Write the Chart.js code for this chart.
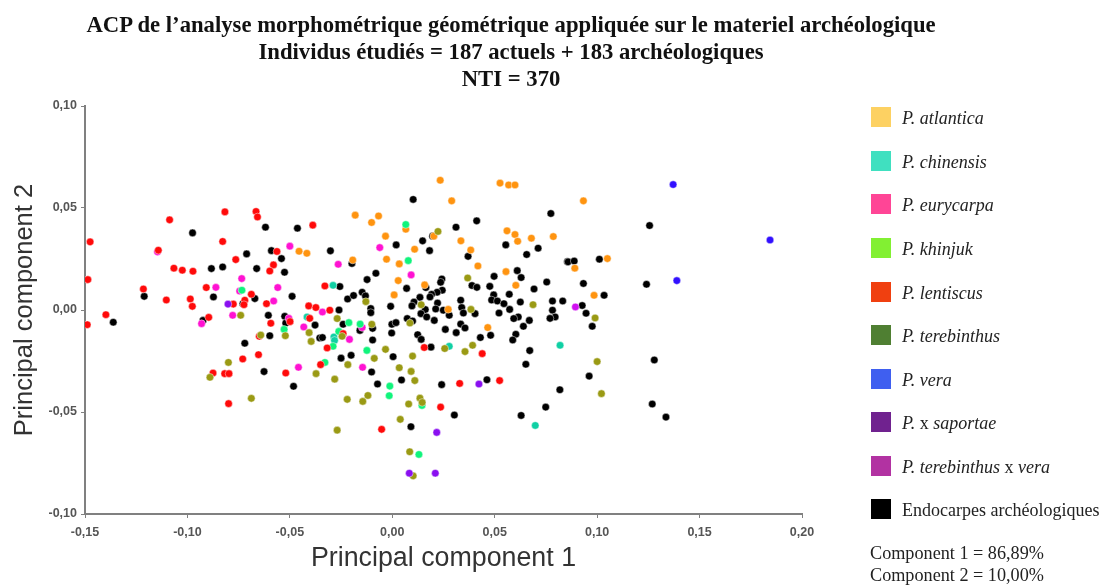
<!DOCTYPE html>
<html lang="fr">
<head>
<meta charset="utf-8">
<title>ACP morphométrie géométrique</title>
<script src="https://cdn.jsdelivr.net/npm/chart.js@4"></script>
<style>
  body { margin: 0; background: #fff; overflow: hidden; }
  #wrap { position: relative; width: 1105px; height: 586px; }
  #my_chart { position: absolute; left: 0; top: 0; }
  #chart_title { position: absolute; left: 11px; top: 11px; width: 1000px; text-align: center; color: #111; font: bold 22.7px/27px "Liberation Serif", serif; white-space: nowrap; }
  .swatch { position: absolute; left: 871px; width: 20px; height: 20px; }
  .label { position: absolute; left: 902px; font: 18px "Liberation Serif", serif; color: #222; white-space: nowrap; line-height: 20px; }
  .note { position: absolute; left: 870px; font: 18.2px "Liberation Serif", serif; color: #222; white-space: nowrap; line-height: 20px; }
</style>
</head>
<body>
<div id="wrap">
  <canvas id="my_chart" width="1105" height="586"></canvas>
  <div id="chart_title"></div>
</div>
<script>
const title_lines = [
    'ACP de l’analyse morphométrique géométrique appliquée sur le materiel archéologique',
    'Individus étudiés = 187 actuels + 183 archéologiques',
    'NTI = 370'
];
const notes = ['Component 1 = 86,89%', 'Component 2 = 10,00%'];

const legend_names = ['P. atlantica', 'P. chinensis', 'P. eurycarpa', 'P. khinjuk', 'P. lentiscus',
    'P. terebinthus', 'P. vera', 'P. x saportae', 'P. terebinthus x vera', 'Endocarpes archéologiques'];
const legend_colors = ['#fdd162', '#40e0c0', '#ff4596', '#82f032', '#f04010',
    '#4f7f32', '#3f5ff0', '#70228f', '#b232a2', '#000000'];
const legend_rows = [117, 161, 204, 248, 292, 335, 379, 422, 466, 509];

const point_colors = ['#ff9410', '#10d0a4', '#ff12d2', '#10f47c', '#ff0a0a',
    '#9a9a14', '#3210ff', '#8a10f0', '#d010f0', '#000000'];
const draw_order = [8, 7, 6, 5, 4, 3, 2, 1, 1, 9];

const atlantica = [[-0.0455,0.0288],[-0.0417,0.0278],[0.0234,0.0636],[0.0526,0.0622],[0.0568,0.0613],[0.0599,0.0613],
    [0.0290,0.0535],[-0.0181,0.0465],[-0.0067,0.0461],[-0.0101,0.0429],[0.0066,0.0396],[-0.0033,0.0362],[0.0203,0.0362],
    [0.0335,0.0339],[0.0383,0.0294],[0.0109,0.0298],[0.0560,0.0388],[0.0599,0.0370],[0.0612,0.0337],[0.0679,0.0352],
    [0.0786,0.0360],[-0.0193,0.0245],[-0.0028,0.0249],[0.0034,0.0226],[0.0418,0.0216],[0.0555,0.0188],[0.0029,0.0144],
    [0.0158,0.0123],[0.0603,0.0121],[0.0009,0.0074],[0.0273,0.0003],[0.0466,-0.0086],[0.0933,0.0535],[0.1050,0.0252],
    [0.0891,0.0205],[0.0985,0.0072]];
const chinensis = [[-0.0416,-0.0034],[-0.0289,0.0121],[-0.0285,-0.0132],[-0.0282,-0.0149],[0.0278,-0.0178],[0.0819,-0.0173],
    [0.0698,-0.0566]];
const eurycarpa = [[-0.1146,0.0285],[-0.0500,0.0313],[-0.0735,0.0154],[-0.0861,0.0111],[-0.0745,0.0093],[-0.0559,0.0110],
    [-0.0579,0.0044],[-0.0779,-0.0026],[-0.0931,-0.0067],[-0.0505,-0.0041],[-0.0432,-0.0083],[-0.0458,-0.0281],[-0.0061,0.0306],
    [-0.0264,0.0224],[0.0092,0.0172],[-0.0341,-0.0010],[-0.0147,-0.0086],[-0.0209,-0.0144],[-0.0145,-0.0281]];
const khinjuk = [[-0.0734,0.0097],[-0.0528,-0.0095],[0.0066,0.0419],[0.0078,0.0242],[-0.0212,-0.0062],[-0.0157,-0.0069],
    [-0.0261,-0.0105],[-0.0289,-0.0178],[-0.0124,-0.0198],[-0.0329,-0.0257],[-0.0012,-0.0373],[-0.0015,-0.0420],[0.0145,-0.0468],
    [0.0130,-0.0708]];
const lentiscus = [[-0.1475,0.0334],[-0.1486,0.0149],[-0.1398,-0.0023],[-0.1215,0.0103],[-0.1087,0.0442],[-0.1142,0.0293],
    [-0.1066,0.0205],[-0.1025,0.0195],[-0.0973,0.0190],[-0.1103,0.0049],[-0.0986,0.0054],[-0.0976,0.0018],[-0.0908,0.0110],
    [-0.0896,-0.0036],[-0.0828,0.0336],[-0.0817,0.0481],[-0.0764,0.0247],[-0.0665,0.0483],[-0.0658,0.0456],[-0.0563,0.0287],
    [-0.0580,0.0221],[-0.0598,0.0191],[-0.0688,0.0077],[-0.0720,0.0048],[-0.0724,0.0026],[-0.0776,0.0029],[-0.0614,0.0031],
    [-0.0388,0.0416],[-0.0408,0.0020],[-0.0373,0.0012],[-0.1489,-0.0072],[-0.0593,-0.0065],[-0.0499,-0.0057],[-0.0403,-0.0041],
    [-0.0649,-0.0129],[-0.0653,-0.0219],[-0.0730,-0.0240],[-0.0875,-0.0309],[-0.0818,-0.0312],[-0.0797,-0.0312],[-0.0520,-0.0309],
    [-0.0350,-0.0268],[-0.0799,-0.0459],[-0.0329,0.0118],[-0.0305,-0.0001],[-0.0318,-0.0186],[-0.0240,-0.0116],[0.0156,-0.0184],
    [0.0439,-0.0214],[0.0329,-0.0360],[0.0524,-0.0346],[0.0236,-0.0476],[-0.0052,-0.0585]];
const terebinthus = [[-0.0740,-0.0026],[-0.0642,-0.0123],[-0.0800,-0.0257],[-0.0890,-0.0330],[-0.0688,-0.0433],[-0.0406,-0.0111],
    [-0.0396,-0.0154],[-0.0522,-0.0126],[-0.0372,-0.0312],[0.0223,0.0385],[0.0368,0.0157],[-0.0129,0.0041],[0.0141,0.0026],
    [0.0384,0.0003],[0.0687,0.0026],[-0.0269,-0.0042],[-0.0100,-0.0070],[0.0086,-0.0064],[-0.0245,-0.0129],[-0.0033,-0.0193],
    [-0.0088,-0.0237],[0.0099,-0.0226],[0.0256,-0.0189],[0.0355,-0.0204],[0.0392,-0.0173],[-0.0217,-0.0268],[0.0034,-0.0283],
    [0.0092,-0.0301],[0.0110,-0.0346],[-0.0281,-0.0339],[-0.0220,-0.0438],[-0.0119,-0.0419],[-0.0144,-0.0448],[0.0080,-0.0461],
    [0.0135,-0.0432],[0.0146,-0.0453],[0.0039,-0.0536],[-0.0269,-0.0589],[0.0085,-0.0695],[0.0102,-0.0813],[0.0990,-0.0039],
    [0.1000,-0.0253],[0.1021,-0.0410]];
const vera = [[0.1371,0.0615],[0.1844,0.0343],[0.1389,0.0144]];
const saportae = [[-0.0802,0.0029],[0.0423,-0.0363],[0.0217,-0.0600],[0.0083,-0.0800],[0.0210,-0.0800]];
const terebinthus_vera = [[0.0894,0.0015]];
const endocarpes = [[-0.0975,0.0378],[-0.0619,0.0406],[-0.0463,0.0401],[-0.0711,0.0275],[-0.0590,0.0291],[-0.0541,0.0252],
    [-0.0883,0.0203],[-0.0828,0.0211],[-0.0662,0.0203],[-0.0526,0.0185],[-0.1211,0.0067],[-0.0873,0.0064],[-0.0671,0.0056],
    [-0.0489,0.0067],[-0.0729,0.0031],[-0.0924,-0.0051],[-0.1362,-0.0060],[-0.0605,-0.0026],[-0.0525,-0.0031],[-0.0520,-0.0064],
    [-0.0377,-0.0074],[-0.0598,-0.0126],[-0.0720,-0.0163],[-0.0626,-0.0302],[-0.0482,-0.0374],[-0.0354,-0.0137],
    [0.0102,0.0542],[0.0774,0.0473],[0.0412,0.0437],[0.0311,0.0406],[-0.0302,0.0290],[0.0019,0.0319],[0.0148,0.0339],
    [0.0182,0.0291],[0.0197,0.0362],[0.0370,0.0263],[0.0554,0.0319],[0.0656,0.0272],[0.0712,0.0303],[0.0855,0.0237],
    [-0.0197,0.0228],[-0.0080,0.0180],[-0.0123,0.0149],[-0.0256,0.0115],[-0.0218,0.0054],[-0.0189,0.0071],[-0.0147,0.0087],
    [-0.0131,0.0069],[-0.0260,0.0000],[-0.0105,0.0007],[-0.0105,-0.0013],[-0.0008,0.0018],[0.0070,0.0106],[0.0135,0.0062],
    [0.0106,0.0039],[0.0096,0.0020],[0.0164,0.0110],[0.0242,0.0152],[0.0236,0.0136],[0.0244,0.0097],[0.0219,0.0087],
    [0.0192,0.0077],[0.0184,0.0064],[0.0221,0.0034],[0.0212,0.0005],[0.0161,0.0002],[0.0140,-0.0018],[0.0168,-0.0034],
    [0.0073,-0.0042],[0.0205,-0.0051],[0.0249,-0.0001],[0.0278,-0.0026],[0.0334,0.0048],[0.0339,0.0012],[0.0347,-0.0015],
    [0.0404,-0.0018],[0.0389,0.0120],[0.0413,0.0111],[0.0476,0.0116],[0.0497,0.0165],[0.0610,0.0193],[0.0629,0.0159],
    [0.0692,0.0103],[0.0754,0.0137],[0.0495,0.0074],[0.0485,0.0049],[0.0513,0.0044],[0.0545,0.0031],[0.0571,0.0077],
    [0.0625,0.0039],[0.0573,0.0003],[0.0521,-0.0015],[0.0782,0.0044],[0.0832,0.0044],[0.0782,-0.0001],[0.0795,-0.0034],
    [0.0770,-0.0041],[0.0615,-0.0034],[0.0593,-0.0042],[0.0669,-0.0051],[-0.0240,-0.0070],[-0.0096,-0.0090],[-0.0341,-0.0135],
    [-0.0096,-0.0147],[-0.0158,-0.0100],[-0.0250,-0.0236],[-0.0201,-0.0222],[0.0004,-0.0229],[-0.0101,-0.0304],[-0.0072,-0.0363],
    [0.0045,-0.0343],[0.0241,-0.0366],[0.0462,-0.0342],[-0.0002,-0.0070],[0.0018,-0.0062],[-0.0003,-0.0113],[0.0099,-0.0054],
    [0.0124,-0.0121],[0.0141,-0.0144],[0.0189,-0.0182],[0.0259,-0.0095],[0.0312,-0.0111],[0.0334,-0.0069],[0.0355,-0.0088],
    [0.0430,-0.0135],[0.0480,-0.0124],[0.0603,-0.0119],[0.0588,-0.0147],[0.0640,-0.0080],[0.0671,-0.0199],[0.0652,-0.0266],
    [0.0818,-0.0391],[0.0749,-0.0476],[0.0629,-0.0517],[0.0303,-0.0515],[0.0091,-0.0572],[0.1256,0.0414],[0.0858,0.0236],
    [0.0888,0.0240],[0.1011,0.0249],[0.0933,0.0130],[0.1241,0.0126],[0.1034,0.0072],[0.0927,0.0022],[0.0946,-0.0016],
    [0.0976,-0.0080],[0.1279,-0.0245],[0.0961,-0.0324],[0.1269,-0.0461],[0.1336,-0.0525]];

const series = [atlantica, chinensis, eurycarpa, khinjuk, lentiscus, terebinthus, vera, saportae, terebinthus_vera, endocarpes];

function comma_tick(value) {
    if(Math.abs(value) < 1e-9) {
        return '0,00';
    }
    return value.toFixed(2).replace('.', ',');
}

const canvas = document.getElementById('my_chart');

let chart = new Chart(canvas, {
    type: 'scatter',
    data: {
        datasets: series.map((points, i) => {
            return {
                label: legend_names[i],
                data: points.map(p => { return {x: p[0], y: p[1]}; }),
                backgroundColor: point_colors[i],
                borderColor: 'rgba(255,255,255,0.45)',
                borderWidth: 1,
                pointRadius: 3.8,
                order: draw_order[i]
            };
        })
    },
    options: {
        responsive: false,
        animation: false,
        layout: { padding: { top: 106, right: 303 } },
        plugins: {
            legend: { display: false },
            tooltip: { enabled: false }
        },
        scales: {
            x: {
                type: 'linear',
                min: -0.15,
                max: 0.20,
                border: { color: '#808080', width: 2 },
                grid: { drawOnChartArea: false, color: '#808080', tickLength: 4 },
                ticks: {
                    stepSize: 0.05,
                    callback: comma_tick,
                    color: '#555',
                    padding: 7,
                    maxRotation: 0,
                    font: { family: '"Liberation Sans", sans-serif', size: 12.5, weight: 'bold' }
                },
                title: {
                    display: true,
                    text: 'Principal component 1',
                    color: '#333',
                    padding: { top: 8, bottom: 11 },
                    font: { family: '"Liberation Sans", sans-serif', size: 26.8 }
                },
                afterFit: (scale) => { scale.height = 72; }
            },
            y: {
                type: 'linear',
                min: -0.10,
                max: 0.10,
                border: { color: '#808080', width: 2 },
                grid: { drawOnChartArea: false, color: '#808080', tickLength: 4 },
                ticks: {
                    stepSize: 0.05,
                    callback: comma_tick,
                    color: '#555',
                    padding: 4,
                    font: { family: '"Liberation Sans", sans-serif', size: 12.5, weight: 'bold' }
                },
                title: {
                    display: true,
                    text: 'Principal component 2',
                    color: '#333',
                    padding: { top: 10, bottom: 5 },
                    font: { family: '"Liberation Sans", sans-serif', size: 25.5 }
                },
                afterFit: (scale) => { scale.width = 85; }
            }
        }
    }
});

document.getElementById('chart_title').innerHTML = title_lines.join('<br>');

const wrap = document.getElementById('wrap');

legend_names.forEach((name, i) => {
    const swatch = document.createElement('div');
    swatch.className = 'swatch';
    swatch.style.top = `${legend_rows[i] - 10}px`;
    swatch.style.background = legend_colors[i];
    wrap.appendChild(swatch);

    const label = document.createElement('div');
    label.className = 'label';
    label.style.top = `${legend_rows[i] - 10 + 1}px`;
    if(name.startsWith('P.')) {
        label.innerHTML = name.split(' x ').map(part => `<i>${part}</i>`).join(' x ');
    }
    else {
        label.textContent = name;
    }
    wrap.appendChild(label);
});

notes.forEach((note, i) => {
    const div = document.createElement('div');
    div.className = 'note';
    div.style.top = `${543 + i * 22}px`;
    div.textContent = note;
    wrap.appendChild(div);
});
</script>
</body>
</html>
